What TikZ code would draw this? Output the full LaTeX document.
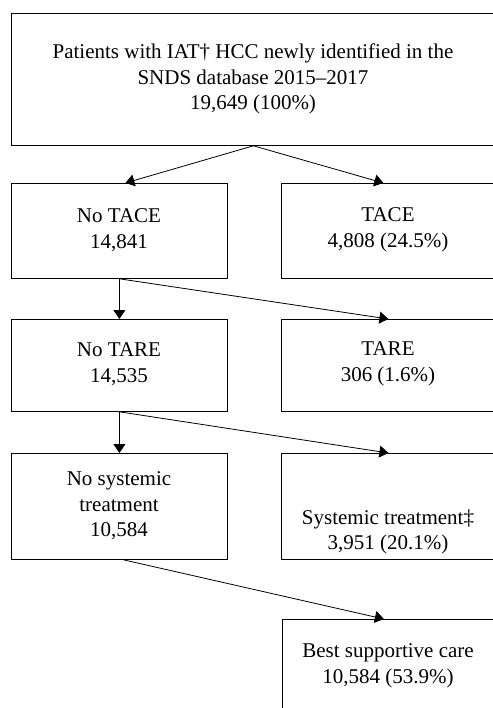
\documentclass[tikz,border=0pt]{standalone}
\usepackage{fontspec}
\setmainfont{Liberation Serif}
\usetikzlibrary{arrows.meta}

\begin{document}
\begin{tikzpicture}[x=1pt,y=-1pt,
	box/.style={draw, line width=0.8pt, rectangle, anchor=north west, inner sep=0pt},
	lbl/.style={align=center, font=\fontsize{21}{25.5}\selectfont},
	arr/.style={-{Triangle[length=9pt,width=12pt]}, line width=0.8pt}]

	\useasboundingbox (0,0) rectangle (492,708);

	\node[box, minimum width=484pt, minimum height=132pt] (all) at (11,13) {};
	\node[box, minimum width=216pt, minimum height=95pt] (notace) at (11,183) {};
	\node[box, minimum width=214pt, minimum height=95pt] (tace) at (281,183) {};
	\node[box, minimum width=216pt, minimum height=92pt] (notare) at (11,319) {};
	\node[box, minimum width=214pt, minimum height=92pt] (tare) at (281,319) {};
	\node[box, minimum width=216pt, minimum height=106pt] (nosys) at (11,453) {};
	\node[box, minimum width=214pt, minimum height=106pt] (sys) at (281,453) {};
	\node[box, minimum width=213pt, minimum height=100pt] (bsc) at (282,619) {};

	\node[lbl] (allt) at (253,79) {Patients with IAT† HCC newly identified in the\\SNDS database 2015–2017\\19,649 (100\%)};
	\node[lbl] (notacet) at (119,230) {No TACE\\14,841};
	\node[lbl] (tacet) at (388,230) {TACE\\4,808 (24.5\%)};
	\node[lbl] (notaret) at (119,364) {No TARE\\14,535};
	\node[lbl] (taret) at (388,364) {TARE\\306 (1.6\%)};
	\node[lbl] (nosyst) at (119,506) {No systemic\\treatment\\10,584};
	\node[lbl] (syst) at (388,532) {Systemic treatment‡\\3,951 (20.1\%)};
	\node[lbl] (bsct) at (388,666) {Best supportive care\\10,584 (53.9\%)};

	\draw[arr] (all.south) -- ([xshift=6pt]notace.north);
	\draw[arr] (all.south) -- ([xshift=-5pt]tace.north);
	\draw[arr] (notace.south) -- (notare.north);
	\draw[arr] (notace.south) -- (tare.north);
	\draw[arr] (notare.south) -- (nosys.north);
	\draw[arr] (notare.south) -- (sys.north);
	\draw[arr] ([xshift=4pt]nosys.south) -- ([xshift=-5pt]bsc.north);
\end{tikzpicture}
\end{document}
